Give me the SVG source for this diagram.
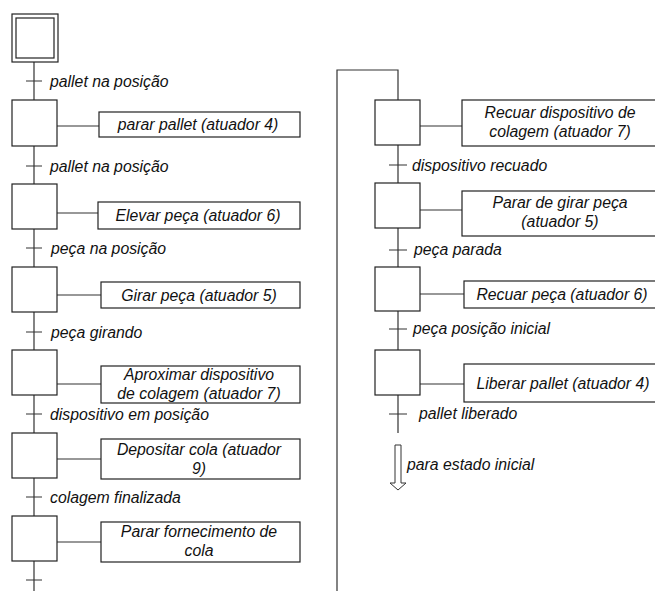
<svg xmlns="http://www.w3.org/2000/svg" width="655" height="591" viewBox="0 0 655 591">
  <style>
    text { font-family: "Liberation Sans", Arial, sans-serif; font-style: italic; font-size: 15.8px; fill: #111; }
    .act { text-anchor: middle; }
    .step { fill: #fff; stroke: #222; stroke-width: 1.2; }
    .box { fill: #fff; stroke: #222; stroke-width: 1.2; }
    .link { fill: none; stroke: #333; stroke-width: 1.2; }
    .tick { stroke: #333; stroke-width: 1.2; }
  </style>

  <!-- connectors: flow lines, transitions and action links -->
  <g id="connectors">
    <path class="link" d="M34,62 V100 M34,146 V184 M34,229 V267 M34,312 V350 M34,395 V433 M34,478 V516 M34,561 V591"/>
    <path class="tick" d="M26,81 H42 M26,166 H42 M26,248 H42 M26,332 H42 M26,414 H42 M26,497 H42 M26,580 H42"/>
    <path class="link" d="M57,126 H99 M57,213 H98 M57,295 H101 M57,384 H101 M57,459 H101 M57,542 H101"/>
    <path class="link" d="M337,591 V70 H398 V100 M398,145 V183 M398,228 V267 M398,311 V350 M398,395 V433"/>
    <path class="tick" d="M389,165 H407 M389,250 H407 M389,329 H407 M389,414 H407"/>
    <path class="link" d="M420,126 H462 M420,210 H462 M420,294 H464 M420,384 H464"/>
    <polygon points="395,445 401,445 401,483 406,483 398,490 390,483 395,483" fill="#fff" stroke="#333" stroke-width="1"/>
  </g>

  <!-- transition conditions -->
  <g id="conditions">
    <text x="50" y="87">pallet na posição</text>
    <text x="50" y="172">pallet na posição</text>
    <text x="51" y="254">peça na posição</text>
    <text x="51" y="338">peça girando</text>
    <text x="50" y="420">dispositivo em posição</text>
    <text x="50" y="503">colagem finalizada</text>
    <text x="412" y="171">dispositivo recuado</text>
    <text x="414" y="255">peça parada</text>
    <text x="413" y="334">peça posição inicial</text>
    <text x="419" y="419">pallet liberado</text>
    <text x="407" y="470">para estado inicial</text>
  </g>

  <!-- initial step -->
  <g id="step0">
    <rect class="step" x="12" y="14" width="46" height="48"/>
    <rect class="step" x="16" y="18" width="38" height="40"/>
  </g>

  <g id="step1">
    <rect class="step" x="12" y="100" width="45" height="46"/>
    <rect class="box" x="99" y="112" width="201" height="25"/>
    <text class="act" x="198" y="130">parar pallet (atuador 4)</text>
  </g>
  <g id="step2">
    <rect class="step" x="12" y="184" width="45" height="45"/>
    <rect class="box" x="98" y="202" width="202" height="27"/>
    <text class="act" x="198" y="221">Elevar peça (atuador 6)</text>
  </g>
  <g id="step3">
    <rect class="step" x="12" y="267" width="45" height="45"/>
    <rect class="box" x="101" y="282" width="199" height="26"/>
    <text class="act" x="199" y="301">Girar peça (atuador 5)</text>
  </g>
  <g id="step4">
    <rect class="step" x="12" y="350" width="45" height="45"/>
    <rect class="box" x="101" y="366" width="199" height="37"/>
    <text class="act" x="199" y="380">Aproximar dispositivo</text>
    <text class="act" x="199" y="399">de colagem (atuador 7)</text>
  </g>
  <g id="step5">
    <rect class="step" x="12" y="433" width="45" height="45"/>
    <rect class="box" x="101" y="439" width="199" height="40"/>
    <text class="act" x="199" y="455">Depositar cola (atuador</text>
    <text class="act" x="199" y="474">9)</text>
  </g>
  <g id="step6">
    <rect class="step" x="12" y="516" width="45" height="45"/>
    <rect class="box" x="101" y="522" width="199" height="40"/>
    <text class="act" x="199" y="537">Parar fornecimento de</text>
    <text class="act" x="199" y="556">cola</text>
  </g>

  <g id="step7">
    <rect class="step" x="375" y="100" width="45" height="45"/>
    <rect class="box" x="462" y="100" width="196" height="46"/>
    <text class="act" x="560" y="118">Recuar dispositivo de</text>
    <text class="act" x="560" y="137">colagem (atuador 7)</text>
  </g>
  <g id="step8">
    <rect class="step" x="375" y="183" width="45" height="45"/>
    <rect class="box" x="462" y="191" width="196" height="45"/>
    <text class="act" x="560" y="208">Parar de girar peça</text>
    <text class="act" x="560" y="227">(atuador 5)</text>
  </g>
  <g id="step9">
    <rect class="step" x="375" y="267" width="45" height="44"/>
    <rect class="box" x="464" y="281" width="194" height="27"/>
    <text class="act" x="562" y="300">Recuar peça (atuador 6)</text>
  </g>
  <g id="step10">
    <rect class="step" x="375" y="350" width="45" height="45"/>
    <rect class="box" x="464" y="364" width="194" height="38"/>
    <text class="act" x="563" y="389">Liberar pallet (atuador 4)</text>
  </g>
</svg>
